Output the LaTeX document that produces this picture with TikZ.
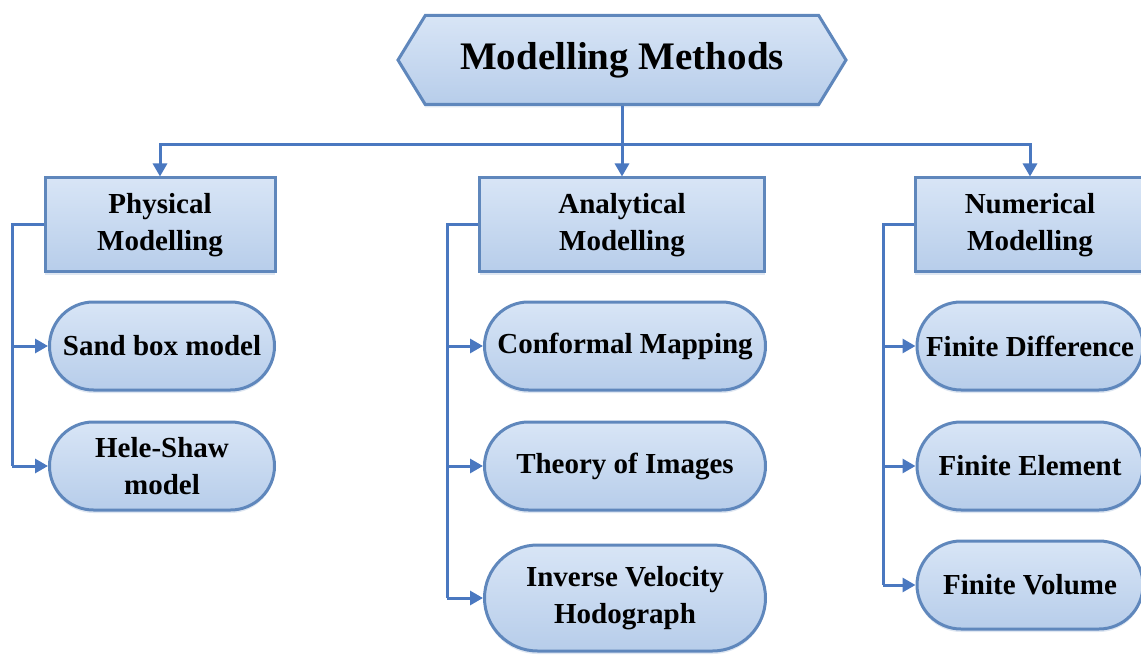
\documentclass[tikz,border=0pt]{standalone}
\usepackage{fontspec}
\setmainfont{Liberation Serif}
\usetikzlibrary{shapes.symbols,shapes.misc,arrows.meta,shadows}
\definecolor{boxbot}{HTML}{B7CDEA}
\definecolor{boxtop}{HTML}{D8E5F6}
\definecolor{boxedge}{HTML}{5F87BC}
\definecolor{linkc}{HTML}{4A78C0}
\tikzset{
  base/.style={draw=boxedge, line width=3pt, top color=boxtop, bottom color=boxbot,
     font=\fontsize{29}{37}\selectfont\bfseries, align=center, inner sep=2pt,
     drop shadow={shadow xshift=0pt, shadow yshift=-3pt, opacity=0.2, fill=boxedge}},
  headbox/.style={base, rectangle, minimum width=230pt, minimum height=94pt},
  pill/.style={base, rounded rectangle, minimum width=229pt, minimum height=88pt},
  link/.style={draw=linkc, line width=3pt, -{Triangle[length=13pt,width=14pt]}},
  plain/.style={draw=linkc, line width=3pt},
}
\begin{document}
\begin{tikzpicture}[x=1pt,y=-1pt]
\useasboundingbox (0,0) rectangle (1141,655);
% title
\node[base, shape=signal, signal to=west and east, signal pointer angle=117,
      minimum width=448pt, minimum height=89pt, font=\fontsize{39}{44}\selectfont\bfseries] (top) at (622,60) {Modelling Methods};
% heads
\node[headbox] (phys) at (160,225) {Physical\\Modelling};
\node[headbox, minimum width=285pt] (anal) at (622,225) {Analytical\\Modelling};
\node[headbox] (num) at (1030,225) {Numerical\\Modelling};
% pills
\node[pill] (sand) at (162,346) {Sand box model};
\node[pill] (hele) at (162,466) {Hele-Shaw\\model};
\node[pill, minimum width=285pt] (conf) at (625,346) {Conformal Mapping};
\node[pill, minimum width=285pt] (theo) at (625,466) {Theory of Images};
\node[pill, minimum width=285pt, minimum height=106pt] (inv) at (625,598) {Inverse Velocity\\Hodograph};
\node[pill, minimum width=230pt] (fd) at (1030,346) {Finite Difference};
\node[pill, minimum width=230pt] (fe) at (1030,466) {Finite Element};
\node[pill, minimum width=230pt] (fv) at (1030,585) {Finite Volume};
% top connectors
\coordinate (bus) at (622,145);
\draw[plain] (top.south) -- (bus);
\draw[link] (bus) -| (phys.north);
\draw[link] (bus) -- (anal.north);
\draw[link] (bus) -| (num.north);
% left rails
\coordinate (pr) at (12,225);
\draw[plain] (phys.west) -- (pr) -- (12,466);
\draw[link] (12,346) -- (sand.west);
\draw[link] (12,466) -- (hele.west);
\coordinate (ar) at (447,225);
\draw[plain] (anal.west) -- (ar) -- (447,598);
\draw[link] (447,346) -- (conf.west);
\draw[link] (447,466) -- (theo.west);
\draw[link] (447,598) -- (inv.west);
\coordinate (nr) at (883,225);
\draw[plain] (num.west) -- (nr) -- (883,585);
\draw[link] (883,346) -- (fd.west);
\draw[link] (883,466) -- (fe.west);
\draw[link] (883,585) -- (fv.west);
\end{tikzpicture}
\end{document}
